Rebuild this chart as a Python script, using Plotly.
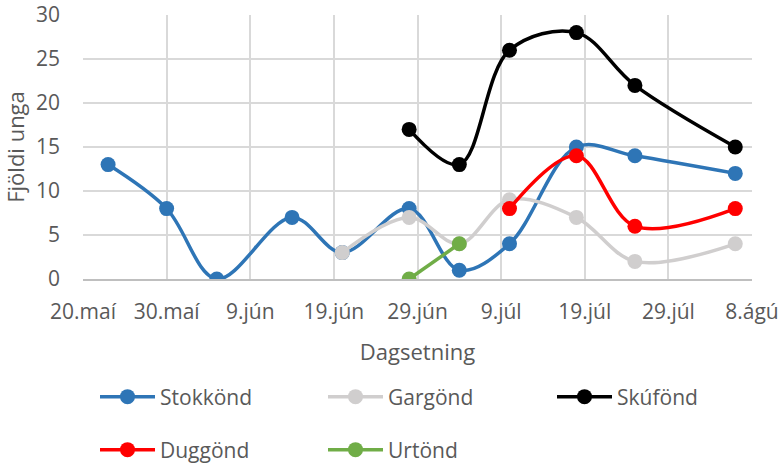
import plotly.graph_objects as go

# Data
stokk_dates = ["2023-05-23", "2023-05-30", "2023-06-05", "2023-06-14", "2023-06-20", "2023-06-28",
               "2023-07-04", "2023-07-10", "2023-07-18", "2023-07-25", "2023-08-06"]
stokk_vals = [13, 8, 0, 7, 3, 8, 1, 4, 15, 14, 12]

garg_dates = ["2023-06-20", "2023-06-28", "2023-07-04", "2023-07-10", "2023-07-18", "2023-07-25", "2023-08-06"]
garg_vals = [3, 7, 4, 9, 7, 2, 4]

skuf_dates = ["2023-06-28", "2023-07-04", "2023-07-10", "2023-07-18", "2023-07-25", "2023-08-06"]
skuf_vals = [17, 13, 26, 28, 22, 15]

dugg_dates = ["2023-07-10", "2023-07-18", "2023-07-25", "2023-08-06"]
dugg_vals = [8, 14, 6, 8]

urt_dates = ["2023-06-28", "2023-07-04"]
urt_vals = [0, 4]

tick_dates = ["2023-05-20", "2023-05-30", "2023-06-09", "2023-06-19", "2023-06-29",
              "2023-07-09", "2023-07-19", "2023-07-29", "2023-08-08"]
tick_labels = ["20.maí", "30.maí", "9.jún", "19.jún", "29.jún", "9.júl", "19.júl", "29.júl", "8.ágú"]

font_family = "Open Sans, Liberation Sans, sans-serif"
text_color = "#595959"

W, H = 780, 466
ML, MT = 83, 15
MR = W - 752
MB = H - 279
PW = W - ML - MR
PH = H - MT - MB

# name, x, y, colour, line shape, legend id, legend text-start px, legend row px
series = [
    ("Stokkönd", stokk_dates, stokk_vals, "#2E75B6", "spline", "legend", 160, 397),
    ("Gargönd", garg_dates, garg_vals, "#D0CECE", "spline", "legend2", 388, 397),
    ("Skúfönd", skuf_dates, skuf_vals, "#000000", "spline", "legend3", 617, 397),
    ("Duggönd", dugg_dates, dugg_vals, "#FF0000", "spline", "legend4", 160, 450),
    ("Urtönd", urt_dates, urt_vals, "#70AD47", "linear", "legend5", 388, 450),
]

ITEMW = 55
fig = go.Figure()
legends = {}
for name, xs, ys, col, shape, lg, tx, ty in series:
    fig.add_trace(go.Scatter(
        x=xs, y=ys, name=name, mode="lines+markers",
        line=dict(color=col, width=3.5, shape=shape, smoothing=1.0),
        marker=dict(color=col, size=15),
        legend=lg,
    ))
    lx = tx - (ITEMW + 10)
    legends[lg] = dict(
        orientation="h", xanchor="left", yanchor="middle",
        x=(lx - ML) / PW, y=(MT + PH - ty) / PH,
        font=dict(family=font_family, size=21, color=text_color),
        bgcolor="rgba(0,0,0,0)", itemwidth=ITEMW,
    )

fig.update_layout(
    width=W, height=H,
    margin=dict(l=ML, r=MR, t=MT, b=MB, autoexpand=False),
    paper_bgcolor="white", plot_bgcolor="white",
    font=dict(family=font_family, color=text_color),
    xaxis=dict(
        range=["2023-05-20", "2023-08-08"],
        tickvals=tick_dates, ticktext=tick_labels,
        tickfont=dict(size=21, color=text_color),
        showgrid=True, gridcolor="#D9D9D9", gridwidth=1.5,
        showline=True, linecolor="#BFBFBF", linewidth=1.5,
        ticks="", zeroline=False, automargin=False,
        ticklabelstandoff=13, ticklabeloverflow="allow",
        title=dict(text="Dagsetning", font=dict(size=22, color=text_color), standoff=21),
    ),
    yaxis=dict(
        range=[0, 30], dtick=5,
        tickfont=dict(size=21, color=text_color),
        showgrid=True, gridcolor="#D9D9D9", gridwidth=1.5,
        zeroline=False, showline=False, ticks="", automargin=False,
        ticklabelstandoff=22, ticklabeloverflow="allow",
        title=dict(text="Fjöldi unga", font=dict(size=22, color=text_color), standoff=8),
    ),
    showlegend=True,
    **legends,
)

fig.write_html("out.html", config={"displayModeBar": False},
               post_script="document.body.style.margin='0';")
